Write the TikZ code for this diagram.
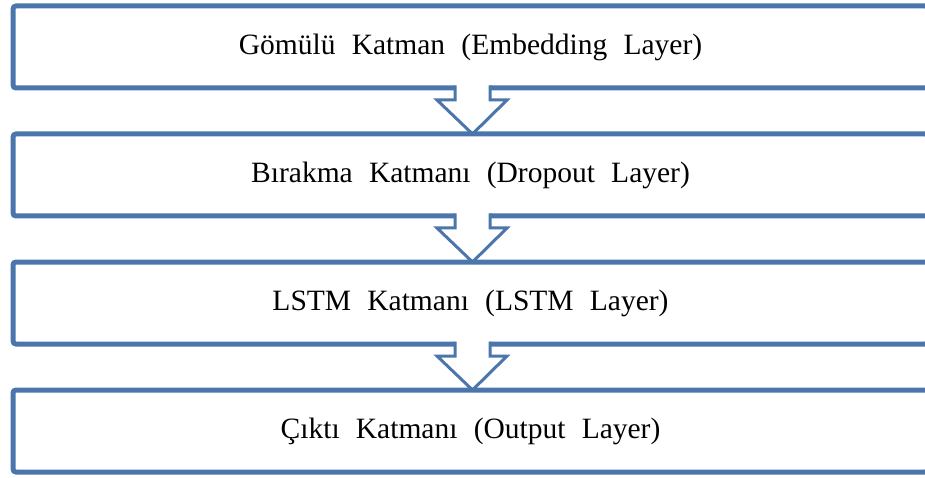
\documentclass[tikz,border=0pt]{standalone}
\usepackage{fontspec}
\setmainfont{Liberation Serif}
\usetikzlibrary{positioning,calc}
\definecolor{layerblue}{HTML}{4A75AD}

\begin{document}
\begin{tikzpicture}[
  x=1pt,y=1pt,
  font=\fontsize{29.5}{35}\selectfont,
  layer/.style={draw=layerblue,line width=5pt,rounded corners=3pt,fill=white,
    minimum width=915pt,minimum height=82pt,inner sep=0pt,outer sep=0pt,
    execute at begin node={\spaceskip=0.55em\relax}},
  flow/.style={draw=layerblue,line width=3pt,line join=miter}]
\useasboundingbox (0,0) rectangle (925,477);
\clip (0,0) rectangle (925,477);
\node[layer] (emb) at (470.5,430) {Gömülü Katman (Embedding Layer)};
\node[layer,below=46pt of emb] (drop) {Bırakma Katmanı (Dropout Layer)};
\node[layer,below=46pt of drop] (lstm) {LSTM Katmanı (LSTM Layer)};
\node[layer,below=46pt of lstm] (out) {Çıktı Katmanı (Output Layer)};
% hollow arrows between layers
\foreach \u/\v in {emb/drop,drop/lstm,lstm/out}{
  \fill[white] ($(\u.south)+(-15.5,2.6)$) rectangle ($(\u.south)+(19.5,-12)$);
  \draw[flow] ($(\u.south)+(-15.5,2.5)$) -- ($(\u.south)+(-15.5,-12)$)
    -- ($(\u.south)+(-33.5,-12)$) -- ($(\v.north)+(2,0)$)
    -- ($(\u.south)+(36.5,-12)$) -- ($(\u.south)+(19.5,-12)$)
    -- ($(\u.south)+(19.5,2.5)$);
}
\end{tikzpicture}
\end{document}
